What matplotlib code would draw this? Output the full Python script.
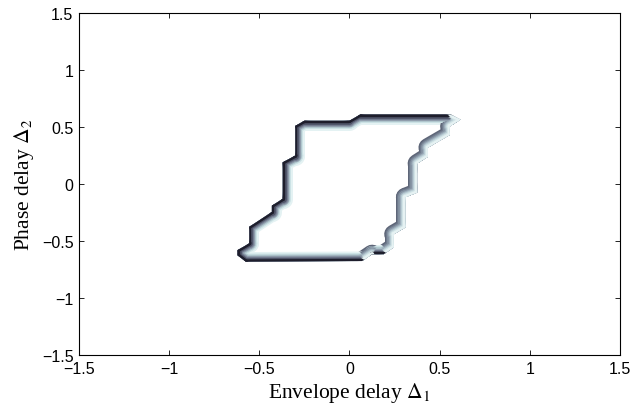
import numpy as np
import matplotlib
matplotlib.use('Agg')
import matplotlib.pyplot as plt
from matplotlib.patches import Polygon
from matplotlib.collections import LineCollection

# boundary of the region (outer edge)
env_delay = [-0.30, -0.25, 0.00, 0.06, 0.56, 0.615, 0.555, 0.555, 0.435, 0.435,
             0.375, 0.375, 0.31, 0.31, 0.245, 0.245, 0.19, 0.125, 0.07, -0.575,
             -0.62, -0.62, -0.555, -0.555, -0.43, -0.43, -0.37, -0.37, -0.30]
phase_delay = [0.51, 0.555, 0.555, 0.61, 0.61, 0.565, 0.505, 0.43, 0.32, 0.24,
               0.18, -0.075, -0.115, -0.38, -0.44, -0.555, -0.615, -0.615, -0.675, -0.68,
               -0.625, -0.58, -0.52, -0.375, -0.245, -0.19, -0.13, 0.19, 0.25]
ticks = [-1.5, -1, -0.5, 0, 0.5, 1, 1.5]
tick_labels = ['\u22121.5', '\u22121', '\u22120.5', '0', '0.5', '1', '1.5']

plt.rcParams['mathtext.fontset'] = 'stix'

fig = plt.figure(figsize=(6.32, 4.14), dpi=100)
ax = fig.add_axes([0.125, 0.140, 0.856, 0.826])

pts = np.column_stack([env_delay, phase_delay])
poly = Polygon(pts, closed=True, facecolor='white', edgecolor='none')
ax.add_patch(poly)

segs = [[pts[i], pts[(i + 1) % len(pts)]] for i in range(len(pts))]
# right-facing edges are shaded the other way round
right_facing = []
for a, b in segs:
    dx, dy = b[0] - a[0], b[1] - a[1]
    nx = -dy / np.hypot(dx, dy)  # clockwise -> outward normal (-dy, dx)
    right_facing.append(nx > 0.3)

# half widths in px, from widest to narrowest
half_w = [9.5, 8, 6.8, 5.6, 4.5, 3.4, 2.2]
col_main = ['#e4f2f3', '#cce2e5', '#afc6cd', '#8f9dac', '#737c90', '#4f5468', '#1e1e2c']
col_right = ['#5e6678', '#6f7a8c', '#8593a3', '#9fb0bd', '#b9ccd4', '#d0e3e6', '#e6f2f3']

for k, hw in enumerate(half_w):
    cols = [col_right[k] if r else col_main[k] for r in right_facing]
    lc = LineCollection(segs, colors=cols, linewidths=2 * hw * 72 / 100,
                        capstyle='round', joinstyle='round')
    lc.set_clip_path(poly)
    ax.add_collection(lc)

ax.set_xlim(-1.5, 1.5)
ax.set_ylim(-1.5, 1.5)
ax.set_xticks(ticks)
ax.set_xticklabels(tick_labels, family='Liberation Sans', fontsize=11.5)
ax.set_yticks(ticks)
ax.set_yticklabels(tick_labels, family='Liberation Sans', fontsize=11.5)
ax.tick_params(direction='in', length=3.5, width=0.6, top=True, right=True, pad=4)
for s in ax.spines.values():
    s.set_linewidth(0.8)

ax.set_xlabel(r'Envelope delay $\Delta_1$', family='Liberation Serif', fontsize=15.5, labelpad=3)
ax.set_ylabel(r'Phase delay $\Delta_2$', family='Liberation Serif', fontsize=15.5, labelpad=4)

fig.savefig('out.png', dpi=100)
